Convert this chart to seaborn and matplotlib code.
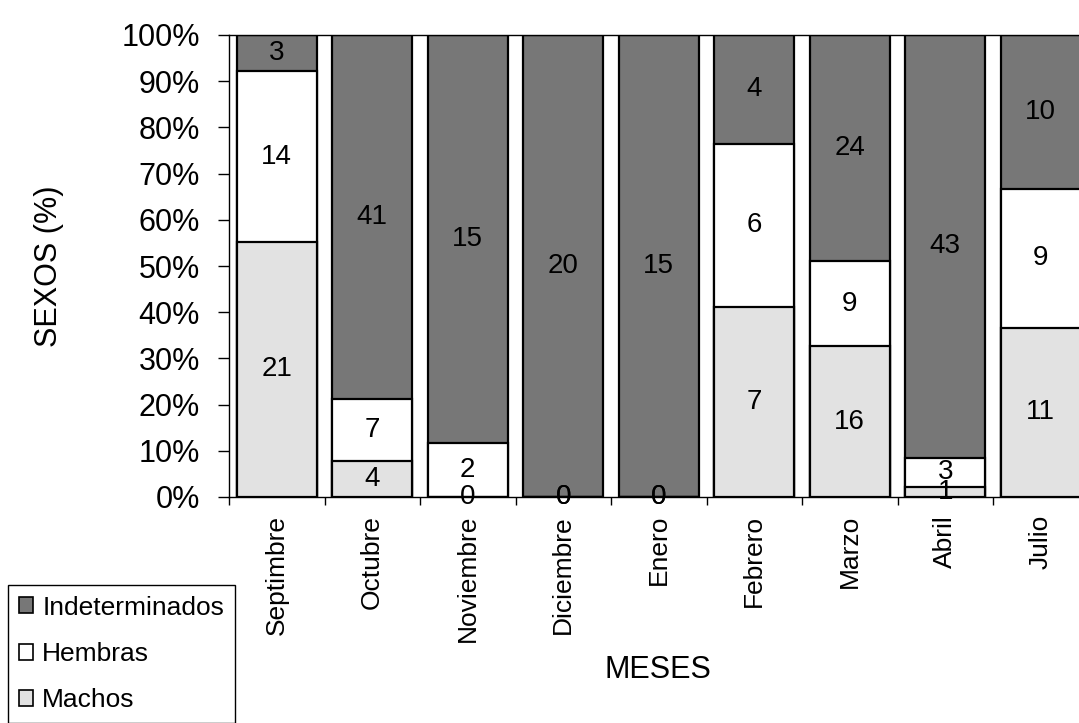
import numpy as np
import matplotlib
matplotlib.use("Agg")
import matplotlib.pyplot as plt
from matplotlib.patches import Patch
import seaborn as sns

# Monthly sex counts
meses = ["Septimbre", "Octubre", "Noviembre", "Diciembre", "Enero",
         "Febrero", "Marzo", "Abril", "Julio"]
machos = [21, 4, 0, 0, 0, 7, 16, 1, 11]
hembras = [14, 7, 2, 0, 0, 6, 9, 3, 9]
indeterminados = [3, 41, 15, 20, 15, 4, 24, 43, 10]
yticks = [0, 10, 20, 30, 40, 50, 60, 70, 80, 90, 100]

sns.set_style("ticks")
plt.rcParams["font.family"] = ["Liberation Sans", "DejaVu Sans"]
plt.rcParams.update({
    "text.color": "black",
    "axes.labelcolor": "black",
    "xtick.color": "black",
    "ytick.color": "black",
    "axes.edgecolor": "black",
})

m = np.array(machos, dtype=float)
h = np.array(hembras, dtype=float)
i = np.array(indeterminados, dtype=float)
tot = m + h + i
pm = m / tot * 100
ph = h / tot * 100
cum_mh = pm + ph
cum_all = cum_mh + i / tot * 100

c_ind = "#777777"
c_hem = "#ffffff"
c_mac = "#e2e2e2"

fig = plt.figure(figsize=(10.79, 7.23), dpi=100)
ax = fig.add_axes([229 / 1079, 226 / 723, 859.5 / 1079, 462 / 723])

bar_kw = dict(width=0.84, edgecolor="black", linewidth=1.6, saturation=1, ax=ax)
sns.barplot(x=meses, y=cum_all, color=c_ind, **bar_kw)
sns.barplot(x=meses, y=cum_mh, color=c_hem, **bar_kw)
sns.barplot(x=meses, y=pm, color=c_mac, **bar_kw)

# Count labels in the middle of each segment
for k in range(len(meses)):
    ax.text(k, pm[k] / 2, f"{machos[k]}", ha="center", va="center",
            fontsize=20, color="black")
    ax.text(k, pm[k] + ph[k] / 2, f"{hembras[k]}", ha="center", va="center",
            fontsize=20, color="black")
    ax.text(k, (cum_mh[k] + cum_all[k]) / 2, f"{indeterminados[k]}",
            ha="center", va="center", fontsize=20, color="black")

ax.set_ylim(0, 100)
ax.set_xlim(-0.5, len(meses) - 0.5)
ax.set_yticks(yticks)
ax.set_yticklabels([f"{v}%" for v in yticks], fontsize=22)
ax.tick_params(axis="y", length=8, width=1, pad=13, color="black", labelcolor="black")

ax.set_xticks(np.arange(-0.5, len(meses), 1))
ax.set_xticklabels([])
ax.set_xticks(np.arange(len(meses)), minor=True)
ax.set_xticklabels(meses, minor=True, rotation=90, fontsize=19)
ax.tick_params(axis="x", which="major", length=6, width=1, color="black")
ax.tick_params(axis="x", which="minor", length=0, pad=13, labelcolor="black")

for side in ["left", "bottom", "top"]:
    ax.spines[side].set_color("black")
    ax.spines[side].set_linewidth(1.0)
ax.spines["right"].set_visible(False)

ax.set_ylabel("SEXOS (%)", fontsize=22, va="center", ha="center", color="black")
ax.yaxis.set_label_coords(-0.21, 0.5)
ax.set_xlabel("MESES", fontsize=22, va="center", ha="center", color="black")
ax.xaxis.set_label_coords(0.499, -0.3745)

handles = [
    Patch(facecolor=c_ind, edgecolor="black", linewidth=1.2, label="Indeterminados"),
    Patch(facecolor=c_hem, edgecolor="black", linewidth=1.2, label="Hembras"),
    Patch(facecolor=c_mac, edgecolor="black", linewidth=1.2, label="Machos"),
]
leg = fig.legend(handles=handles, loc="upper left",
                 bbox_to_anchor=(8 / 1079, 1 - 585 / 723),
                 fontsize=19, frameon=True, fancybox=False, framealpha=1,
                 edgecolor="black", handlelength=0.55, handleheight=0.55,
                 handletextpad=0.35, labelspacing=0.85, borderpad=0.4,
                 borderaxespad=0)
leg.get_frame().set_linewidth(1.0)
for t in leg.get_texts():
    t.set_color("black")

fig.savefig("out.png", dpi=100)
